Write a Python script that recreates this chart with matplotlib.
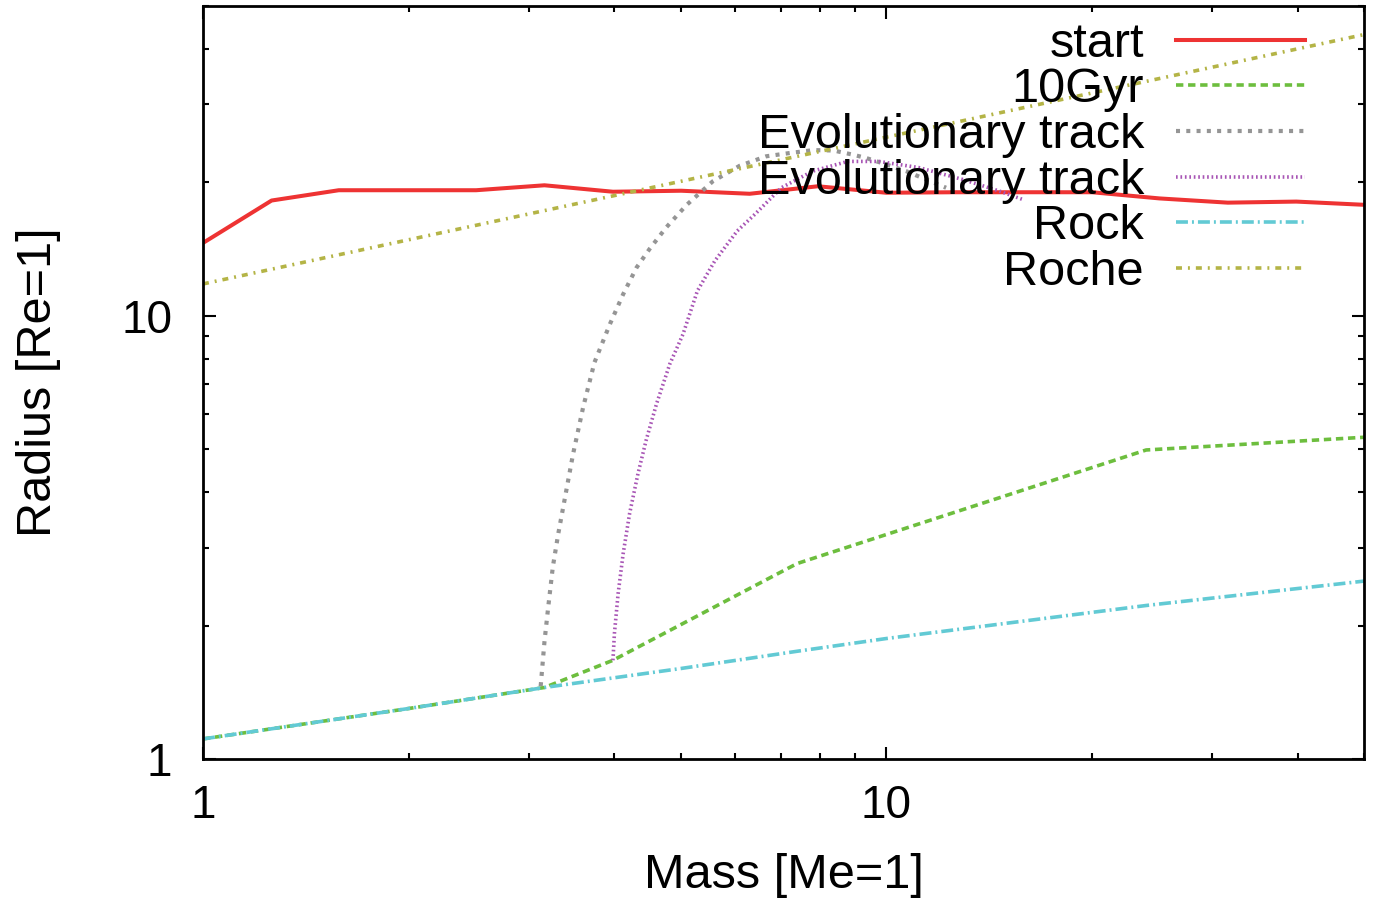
import matplotlib
matplotlib.use("Agg")
import matplotlib.pyplot as plt
from matplotlib.ticker import LogLocator, NullFormatter

plt.rcParams['font.family'] = ['Liberation Sans', 'DejaVu Sans']
plt.rcParams['lines.scale_dashes'] = False

# planet radius at the start (mass grid in Earth masses)
start_mass = [1.0, 1.26, 1.58, 2.0, 2.51, 3.16, 3.98, 5.01, 6.31, 7.94, 10.0,
              12.6, 15.8, 20.0, 25.1, 31.6, 39.8, 50.0]
start_radius = [14.6, 18.2, 19.2, 19.2, 19.2, 19.7, 19.05, 19.15, 18.85, 19.6, 18.95,
                19.0, 19.0, 19.0, 18.4, 18.0, 18.1, 17.8]

# after 10 Gyr
gyr_mass = [1.0, 2.0, 3.16, 3.98, 7.4, 24.0, 50.0]
gyr_radius = [1.11, 1.30, 1.45, 1.67, 2.76, 4.98, 5.32]

# evolutionary track 1 (grey)
track1_mass = [3.12, 3.16, 3.20, 3.25, 3.31, 3.38, 3.48, 3.60, 3.74, 3.94, 4.12, 4.31,
               4.50, 4.76, 5.10, 5.57, 6.10, 6.67, 7.23, 7.82, 8.37, 8.93, 9.34, 9.99,
               10.69, 11.43, 12.23]
track1_radius = [1.46, 1.84, 2.20, 2.71, 3.22, 3.83, 4.88, 6.22, 7.85, 9.58, 11.19, 12.85,
                 14.13, 15.81, 17.78, 20.1, 21.8, 22.9, 23.3, 23.65, 23.6, 23.1, 22.7, 21.96,
                 21.2, 20.3, 19.45]

# evolutionary track 2 (purple)
track2_mass = [3.98, 4.00, 4.05, 4.12, 4.21, 4.33, 4.45, 4.61, 4.82, 5.04, 5.29, 5.61,
               6.05, 6.42, 7.02, 7.80, 8.78, 9.75, 11.15, 12.94, 14.58, 15.83]
track2_radius = [1.67, 1.92, 2.36, 2.91, 3.58, 4.40, 5.23, 6.33, 7.78, 9.09, 11.38, 13.30,
                 15.54, 16.94, 19.45, 21.2, 22.3, 22.3, 21.6, 20.3, 19.15, 18.3]

# pure rock
rock_mass = [1.0, 2.0, 3.16, 5.0, 7.4, 10.0, 24.0, 50.0]
rock_radius = [1.11, 1.30, 1.45, 1.60, 1.75, 1.87, 2.22, 2.52]

# Roche limit
roche_mass = [1.0, 50.0]
roche_radius = [11.8, 43.1]

fig = plt.figure(figsize=(13.75, 9.01), dpi=100)
ax = fig.add_axes([0.14764, 0.15760, 0.84436, 0.83574])

ax.plot(start_mass, start_radius, color='#EE3333', lw=2.9, label='start')
ax.plot(gyr_mass, gyr_radius, color='#6DBE3E', lw=2.6, dashes=(5.3, 3.4), label='10Gyr')
ax.plot(track1_mass, track1_radius, color='#959595', lw=3.0, dashes=(2.9, 4.5),
        label='Evolutionary track')
ax.plot(track2_mass, track2_radius, color='#A855B5', lw=2.6, dashes=(1.2, 2.0),
        label='Evolutionary track')
ax.plot(rock_mass, rock_radius, color='#62CAD4', lw=2.6, dashes=(8.6, 2.9, 1.4, 2.9),
        label='Rock')
ax.plot(roche_mass, roche_radius, color='#B4B446', lw=2.6, dashes=(4.3, 4.3, 1.4, 4.3),
        label='Roche')

ax.set_xscale('log')
ax.set_yscale('log')
ax.set_xlim(1, 50)
ax.set_ylim(1, 50)

ax.set_xticks([1, 10])
ax.set_xticklabels(['1', '10'])
ax.set_yticks([1, 10])
ax.set_yticklabels(['1', '10'])
ax.xaxis.set_minor_locator(LogLocator(subs=range(2, 10)))
ax.yaxis.set_minor_locator(LogLocator(subs=range(2, 10)))
ax.xaxis.set_minor_formatter(NullFormatter())
ax.yaxis.set_minor_formatter(NullFormatter())

ax.tick_params(which='both', direction='in', top=True, right=True, width=1.5,
               labelsize=33, colors='black')
ax.tick_params(which='major', length=9)
ax.tick_params(which='minor', length=4.5)
ax.tick_params(axis='x', pad=18)
ax.tick_params(axis='y', pad=22)
for s in ax.spines.values():
    s.set_linewidth(2)

ax.set_xlabel('Mass [Me=1]', fontsize=35, va='center')
ax.xaxis.set_label_coords(0.5, -0.155)
ax.set_ylabel('Radius [Re=1]', fontsize=35, va='center')
ax.yaxis.set_label_coords(-0.142, 0.5)

ax.legend(loc='upper right', bbox_to_anchor=(0.949, 0.979), frameon=False,
          markerfirst=False, fontsize=35, borderpad=0, borderaxespad=0,
          handlelength=2.65, handletextpad=0.66, labelspacing=0.012)

fig.savefig('out.png', dpi=100)
